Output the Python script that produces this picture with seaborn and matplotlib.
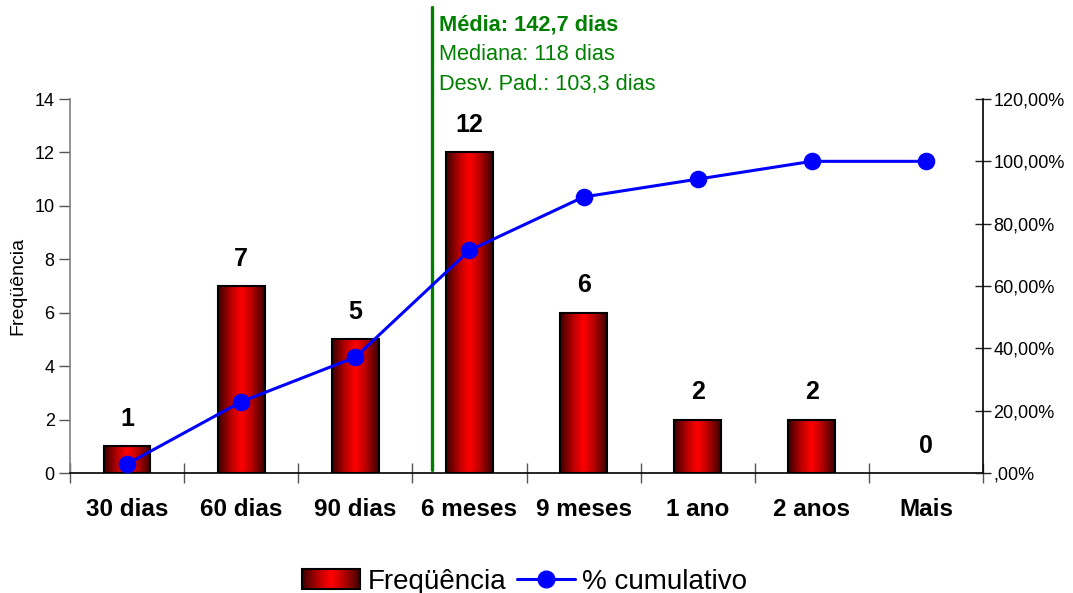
import numpy as np
import pandas as pd
import matplotlib
matplotlib.use("Agg")
import matplotlib.pyplot as plt
import seaborn as sns
from matplotlib.patches import Rectangle
from matplotlib.lines import Line2D
from matplotlib.colors import LinearSegmentedColormap
from matplotlib.legend_handler import HandlerBase
from matplotlib.ticker import FixedLocator, FuncFormatter

# Data
categorias = ["30 dias", "60 dias", "90 dias", "6 meses", "9 meses", "1 ano", "2 anos", "Mais"]
frequencia = [1, 7, 5, 12, 6, 2, 2, 0]
cumulativo = [2.86, 22.86, 37.14, 71.43, 88.57, 94.29, 100.0, 100.0]
media_pos = 2.67  # position of the mean marker along the category axis
estatisticas = ["Média: 142,7 dias", "Mediana: 118 dias", "Desv. Pad.: 103,3 dias"]

sns.set_theme(style="white")
plt.rcParams["font.family"] = ["Liberation Sans", "DejaVu Sans"]
plt.rcParams.update({"text.color": "black", "axes.labelcolor": "black",
                     "xtick.color": "black", "ytick.color": "black"})

df = pd.DataFrame({"cat": categorias, "freq": frequencia, "cum": cumulativo})

fig = plt.figure(figsize=(10.73, 5.93), dpi=100)
ax = fig.add_axes([70 / 1073, 1 - 473 / 593, 913 / 1073, 374 / 593])

sns.barplot(data=df, x="cat", y="freq", ax=ax, width=0.41, color="red",
            edgecolor="black", linewidth=1.5, saturation=1)

# horizontal shading of each bar: dark edges, bright red centre
red_grad = LinearSegmentedColormap.from_list(
    "redgrad", [(0.0, "#3a0000"), (0.3, "#c00000"), (0.5, "#ff0000"),
                (0.7, "#c00000"), (1.0, "#3a0000")])
grad = np.linspace(0, 1, 256).reshape(1, -1)
for p in list(ax.patches):
    x, y = p.get_x(), p.get_y()
    w, h = p.get_width(), p.get_height()
    if h <= 0:
        p.set_visible(False)
        continue
    ax.imshow(grad, extent=[x, x + w, y, y + h], aspect="auto", cmap=red_grad,
              zorder=p.get_zorder() + 0.1, interpolation="bicubic")
    p.set_facecolor("none")
    p.set_zorder(p.get_zorder() + 0.2)

ax.set_xlim(-0.5, 7.5)
ax.set_ylim(0, 14)
ax.set_yticks(range(0, 15, 2))
ax.set_xlabel("")
ax.set_ylabel("Freqüência", fontsize=14)
ax.yaxis.set_label_coords(-0.048, 0.5)

for c in ax.containers:
    ax.bar_label(c, labels=[str(v) for v in frequencia], padding=11,
                 fontsize=18, fontweight="bold")

ax2 = ax.twinx()
sns.pointplot(data=df, x="cat", y="cum", ax=ax2, color="#0000ff",
              marker="o", markersize=11, linewidth=2.2)
ax2.set_ylim(0, 120)
ax2.set_xlim(-0.5, 7.5)
ax2.set_yticks(range(0, 121, 20))
ax2.yaxis.set_major_formatter(FuncFormatter(
    lambda v, _: ",00%" if v == 0 else f"{v:.2f}".replace(".", ",") + "%"))
ax2.set_ylabel("")
ax2.set_xlabel("")

# tick styling
ax.tick_params(axis="y", which="major", direction="out", length=8, width=1,
               color="#555555", labelsize=13, pad=3, left=True)
ax.tick_params(axis="x", which="major", length=0, labelsize=17.5, pad=18)
for lbl in ax.get_xticklabels():
    lbl.set_fontweight("bold")
ax.xaxis.set_minor_locator(FixedLocator(np.arange(-0.5, 8.0, 1.0)))
ax.tick_params(axis="x", which="minor", direction="inout", length=14, width=1,
               color="#555555", bottom=True)
ax2.tick_params(axis="y", which="major", direction="inout", length=12, width=1,
                color="#222222", labelsize=13, pad=1.5, right=True)

ax.spines["top"].set_visible(False)
ax2.spines["top"].set_visible(False)
ax.spines["right"].set_visible(False)
ax.spines["left"].set_color("#808080")
ax.spines["bottom"].set_color("black")
ax2.spines["left"].set_visible(False)
ax2.spines["bottom"].set_visible(False)
ax2.spines["right"].set_color("black")
for a in (ax, ax2):
    for s in a.spines.values():
        s.set_linewidth(1.2)

# mean marker line with summary statistics
ax.axvline(media_pos, ymin=0.008, ymax=1.245, color="#008000", linewidth=2.4,
           clip_on=False, zorder=5)
y0 = 1.198
for i, t in enumerate(estatisticas):
    ax.text(media_pos + 0.06, y0 - i * 0.079, t, transform=ax.get_xaxis_transform(),
            color="#008000", fontsize=15.7, va="center", ha="left",
            fontweight="bold" if i == 0 else "normal")


class GradientHandler(HandlerBase):
    def create_artists(self, legend, orig_handle, xdescent, ydescent,
                       width, height, fontsize, trans):
        artists = []
        n = 40
        for i in range(n):
            r = Rectangle((-xdescent + width * i / n, -ydescent), width / n + 0.3, height,
                          facecolor=red_grad((i + 0.5) / n), edgecolor="none",
                          transform=trans)
            artists.append(r)
        artists.append(Rectangle((-xdescent, -ydescent), width, height,
                                 facecolor="none", edgecolor="black", linewidth=1.5,
                                 transform=trans))
        return artists


bar_handle = Rectangle((0, 0), 1, 1)
line_handle = Line2D([], [], color="#0000ff", marker="o", markersize=12, linewidth=2.2)
fig.legend([bar_handle, line_handle], ["Freqüência", "% cumulativo"],
           handler_map={Rectangle: GradientHandler()},
           loc="lower center", bbox_to_anchor=(0.489, -0.045), ncol=2, frameon=False,
           fontsize=20, handlelength=2.1, handleheight=0.7, handletextpad=0.25,
           columnspacing=0.4)

fig.savefig("out.png", dpi=100)
